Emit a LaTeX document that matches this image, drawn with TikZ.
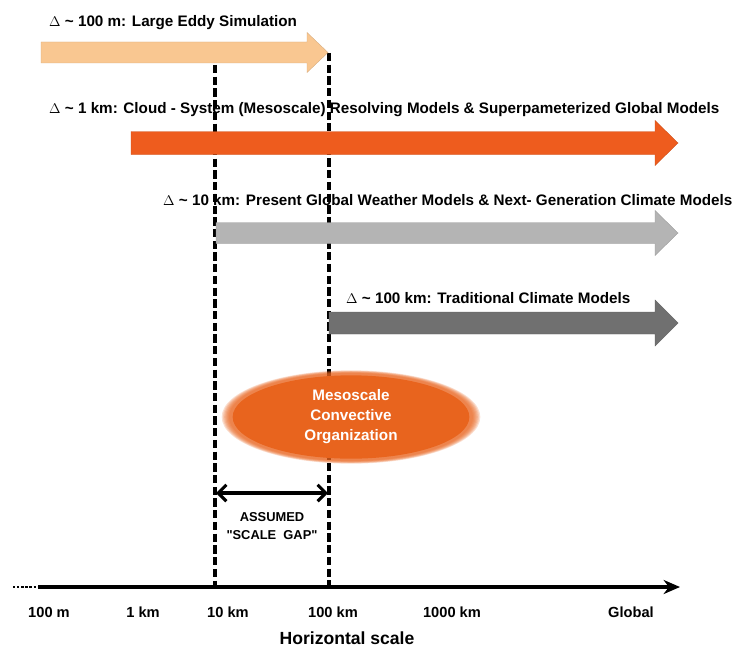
\documentclass[tikz,border=0pt]{standalone}
\usepackage{fontspec}
\setmainfont{Liberation Sans}
\usetikzlibrary{arrows.meta,shapes.geometric}
\definecolor{eddyorange}{RGB}{249,199,145}
\definecolor{crmorange}{RGB}{238,92,30}
\definecolor{gcmlight}{RGB}{180,180,180}
\definecolor{gcmdark}{RGB}{112,112,112}
\definecolor{mesoorange}{RGB}{232,100,30}
% fat arrow: x start, x head, x tip, y centre, half body, half head, colour
\newcommand{\fatArrow}[7]{%
  \fill[#7,draw=#7!85!black,line width=0.3pt]
    (#1,#4-#5) -- (#2,#4-#5) -- (#2,#4-#6) -- (#3,#4)
    -- (#2,#4+#6) -- (#2,#4+#5) -- (#1,#4+#5) -- cycle;}
\tikzset{
  modellabel/.style={anchor=west,inner sep=0pt,font=\bfseries\fontsize{13}{15}\selectfont},
  ticklabel/.style={inner sep=0pt,font=\bfseries\fontsize{12.5}{14}\selectfont},
  gapline/.style={line width=2.8pt,dash pattern=on 7pt off 3pt},
  barbs/.style={line width=2.6pt,{Straight Barb[length=7pt,width=14pt]}-{Straight Barb[length=7pt,width=14pt]}},
}

\begin{document}
\begin{tikzpicture}[x=0.03cm,y=-0.03cm]
        \useasboundingbox (0,0) rectangle (737,647);

        % Model labels
        \node[modellabel] (les) at (49,23) {$\Delta$ \textasciitilde\ 100 m: Large Eddy Simulation};
        \node[modellabel] (crm) at (49,110) {$\Delta$ \textasciitilde\ 1 km: Cloud - System (Mesoscale) Resolving Models \& Superpameterized Global Models};
        \node[modellabel] (gwm) at (163,200) {$\Delta$ \textasciitilde\ 10 km: Present Global Weather Models \& Next- Generation Climate Models};
        \node[modellabel] (tcm) at (346,298) {$\Delta$ \textasciitilde\ 100 km: Traditional Climate Models};

        % Scale gap limits
        \coordinate (tenkm top) at (215,65);
        \coordinate (tenkm) at (215,587);
        \coordinate (hundredkm top) at (329,53);
        \coordinate (hundredkm) at (329,587);
        \draw[gapline] (tenkm top) -- (tenkm);
        \draw[gapline] (hundredkm top) -- (hundredkm);

        % Resolution arrows
        \fatArrow{41}{307}{328}{52.5}{10.5}{20}{eddyorange}
        \fatArrow{131}{655}{678}{143}{11.5}{22.5}{crmorange}
        \fatArrow{216}{655}{678}{233}{10.5}{22.5}{gcmlight}
        \fatArrow{329}{655}{678}{323}{11}{23}{gcmdark}

        % Mesoscale organization (soft edge)
        \foreach \g in {1.06,1.05,...,1.0}{
            \fill[mesoorange,opacity=0.2] (351,417) ellipse ({122*\g} and {44*\g});
        }
        \node[ellipse,fill=mesoorange,inner sep=0pt,minimum width=7.1cm,minimum height=2.5cm,
            text=white,align=center,font=\bfseries\fontsize{13}{17}\selectfont]
            (meso) at (351,417) {Mesoscale\\Convective\\Organization};

        % Assumed scale gap
        \coordinate (gap left) at (216,493);
        \coordinate (gap right) at (328,493);
        \draw[barbs] (gap left) -- (gap right);
        \node[align=center,inner sep=0pt,font=\bfseries\fontsize{11}{15.4}\selectfont]
            (gap) at (272,526) {ASSUMED\\\textquotedbl SCALE\ \ GAP\textquotedbl};

        % Horizontal axis
        \coordinate (axis dots) at (13,587);
        \coordinate (axis start) at (38,587);
        \coordinate (axis end) at (680,587);
        \draw[line width=2.2pt,dash pattern=on 2pt off 1.5pt] (axis dots) -- (axis start);
        \draw[line width=2.6pt,-{Stealth[length=14pt,width=12pt]}] (axis start) -- (axis end);
        \foreach \tx/\tl [count=\i] in {49/100 m,143/1 km,228/10 km,333/100 km,452/1000 km,631/Global}{
            \node[ticklabel] (tick\i) at (\tx,612) {\tl};
        }
        \node[ticklabel,font=\bfseries\fontsize{15}{17}\selectfont] (xlabel) at (347,638) {Horizontal scale};

\end{tikzpicture}
\end{document}
